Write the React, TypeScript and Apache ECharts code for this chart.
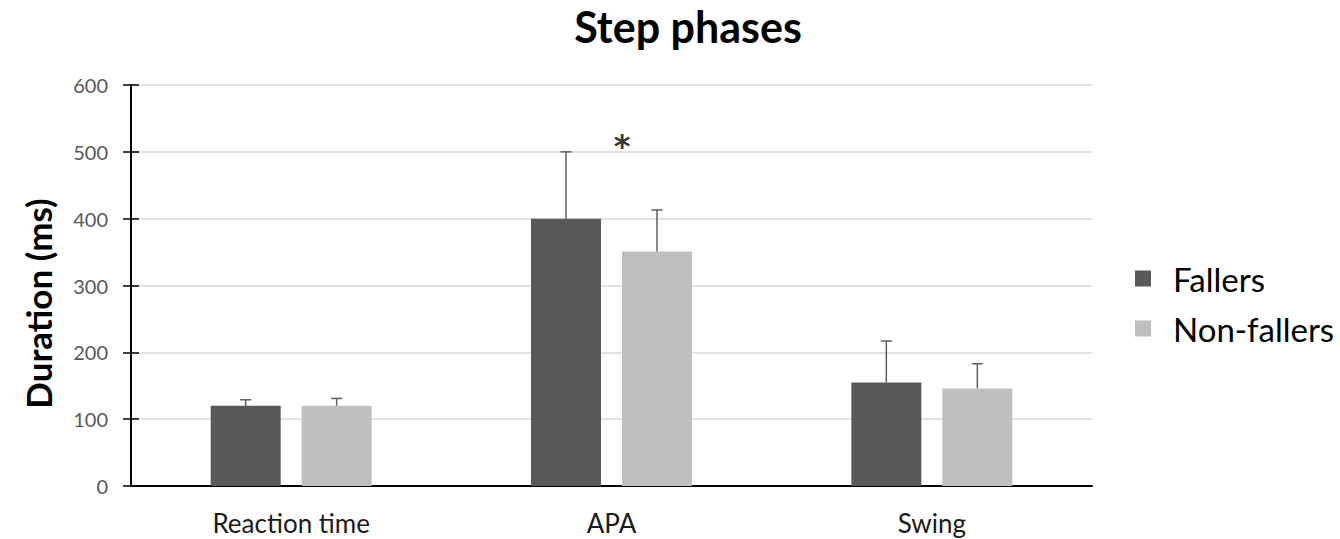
import React, { useEffect, useRef } from "react";
import * as echarts from "echarts";

const categories = ["Reaction time", "APA", "Swing"];
const fallers = [120, 400, 155];
const nonFallers = [120, 351, 146];
const fallersErr = [9, 100, 62];
const nonFallersErr = [11, 62, 37];
const yTicks = { min: 0, max: 600, interval: 100 };
const significance = { category: "APA", value: 508, text: "*" };

const FONT = "Lato, 'Open Sans', sans-serif";
const DARK = "#595959";
const LIGHT = "#bfbfbf";
const BAR_W = 70;
const BAR_GAP_PX = 21;

function errorSeries(name: string, vals: number[], errs: number[], side: number) {
  return {
    type: "custom",
    name: name + "-err",
    z: 5,
    silent: true,
    data: vals.map((v, i) => [i, v, v + errs[i]]),
    renderItem: (params: any, api: any) => {
      const i = api.value(0);
      const base = api.coord([i, api.value(1)]);
      const top = api.coord([i, api.value(2)]);
      const off = side * (BAR_W + BAR_GAP_PX) / 2;
      const x = base[0] + off;
      const cap = 5.5;
      const style = { stroke: "#5f5f5f", lineWidth: 1.5 };
      return {
        type: "group",
        children: [
          { type: "line", shape: { x1: x, y1: base[1], x2: x, y2: top[1] }, style },
          { type: "line", shape: { x1: x - cap, y1: top[1], x2: x + cap, y2: top[1] }, style },
        ],
      };
    },
  };
}

export default function App() {
  const ref = useRef<HTMLDivElement>(null);
  useEffect(() => {
    if (!ref.current) return;
    document.body.style.margin = "0";
    const chart = echarts.init(ref.current, undefined, { renderer: "svg" });
    chart.setOption({
      animation: false,
      backgroundColor: "#ffffff",
      title: {
        text: "Step phases",
        left: 683,
        textAlign: "center",
        top: 0,
        textStyle: { fontFamily: FONT, fontWeight: "bold", fontSize: 43, color: "#000" },
      },
      legend: {
        orient: "vertical",
        left: 1130,
        top: 257,
        itemWidth: 16,
        itemHeight: 16,
        itemGap: 17,
        icon: "rect",
        data: ["Fallers", "Non-fallers"],
        textStyle: { fontFamily: FONT, fontSize: 33, color: "#000", padding: [0, 0, 0, 17] },
      },
      grid: { left: 131, right: 248, top: 85, bottom: 53, containLabel: false },
      xAxis: {
        type: "category",
        data: categories,
        axisLine: { lineStyle: { color: "#000", width: 2 } },
        axisTick: { show: false },
        axisLabel: { fontFamily: FONT, fontSize: 26, color: "#1a1a1a", margin: 24 },
      },
      yAxis: [
        {
          type: "value",
          min: yTicks.min,
          max: yTicks.max,
          interval: yTicks.interval,
          name: "Duration (ms)",
          nameLocation: "middle",
          nameGap: 76,
          nameTextStyle: {
            fontFamily: FONT,
            fontWeight: "bold",
            fontSize: 35,
            color: "#000",
            padding: [0, 36, 0, 0],
          },
          axisLine: { show: true, lineStyle: { color: "#000", width: 2 } },
          axisTick: { show: true, length: 8, lineStyle: { color: "#000", width: 1.5 } },
          axisLabel: { fontFamily: FONT, fontSize: 20, color: "#595959", margin: 23 },
          splitLine: { lineStyle: { color: "#d9d9d9", width: 1.5 } },
        },
        {
          type: "value",
          position: "left",
          min: yTicks.min,
          max: yTicks.max,
          interval: yTicks.interval,
          axisLine: { show: false },
          axisTick: { show: true, inside: true, length: 8, lineStyle: { color: "#000", width: 1.5 } },
          axisLabel: { show: false },
          splitLine: { show: false },
        },
      ],
      series: [
        {
          name: "Fallers",
          type: "bar",
          data: fallers,
          barWidth: BAR_W,
          barGap: (BAR_GAP_PX / BAR_W) * 100 + "%",
          itemStyle: { color: DARK },
        },
        {
          name: "Non-fallers",
          type: "bar",
          data: nonFallers,
          barWidth: BAR_W,
          itemStyle: { color: LIGHT },
        },
        errorSeries("Fallers", fallers, fallersErr, -1),
        errorSeries("Non-fallers", nonFallers, nonFallersErr, 1),
        {
          name: "significance",
          type: "scatter",
          symbolSize: 0,
          silent: true,
          data: [[significance.category, significance.value]],
          label: {
            show: true,
            formatter: significance.text,
            position: "inside",
            offset: [10.5, 0],
            fontFamily: "'DejaVu Sans', sans-serif",
            fontWeight: "bold",
            fontSize: 32,
            color: "#000",
          },
        },
      ],
    });
    return () => chart.dispose();
  }, []);
  return <div ref={ref} style={{ width: 1340, height: 539 }} />;
}
